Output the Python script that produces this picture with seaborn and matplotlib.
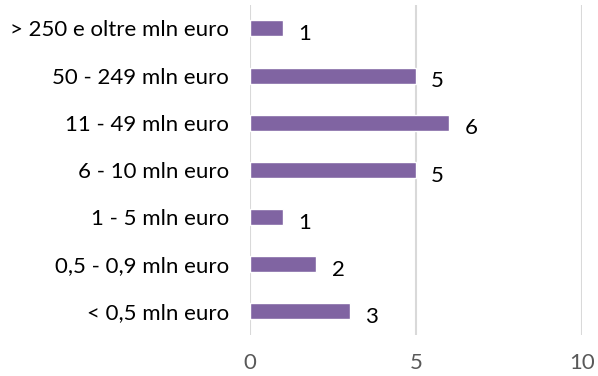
import matplotlib
matplotlib.use("Agg")
import matplotlib.pyplot as plt
import seaborn as sns
import pandas as pd

categories = [
    "> 250 e oltre mln euro",
    "50 - 249 mln euro",
    "11 - 49 mln euro",
    "6 - 10 mln euro",
    "1 - 5 mln euro",
    "0,5 - 0,9 mln euro",
    "< 0,5 mln euro",
]
values = [1, 5, 6, 5, 1, 2, 3]
x_ticks = [0, 5, 10]

sns.set_theme(style="white")
plt.rcParams["font.family"] = ["Lato", "DejaVu Sans"]

df = pd.DataFrame({"fascia": categories, "numero": values})

fig = plt.figure(figsize=(5.98, 3.76), dpi=100)
ax = fig.add_axes([0.418, 0.109, 0.555, 0.878])

sns.barplot(data=df, y="fascia", x="numero", orient="h", color="#8064A2",
            saturation=1, width=0.34, ax=ax)

for c in ax.containers:
    texts = ax.bar_label(c, labels=[str(v) for v in values], padding=11,
                         fontsize=16, color="#000000")
    # value labels sit slightly below the bar centre
    for t in texts:
        t.xyann = (t.xyann[0], -4.0)

ax.set_xlim(0, 10)
ax.set_xticks(x_ticks)
ax.set_xticklabels([str(t) for t in x_ticks])
ax.set_xlabel("")
ax.set_ylabel("")
ax.grid(axis="x", color="#D9D9D9", linewidth=1.5)
ax.set_axisbelow(True)
for s in ax.spines.values():
    s.set_visible(False)
ax.tick_params(axis="x", length=0, pad=13, labelsize=16, labelcolor="#595959")
ax.tick_params(axis="y", length=0, pad=15, labelsize=16, labelcolor="#000000")

fig.savefig("out.png", dpi=100, facecolor="white")
